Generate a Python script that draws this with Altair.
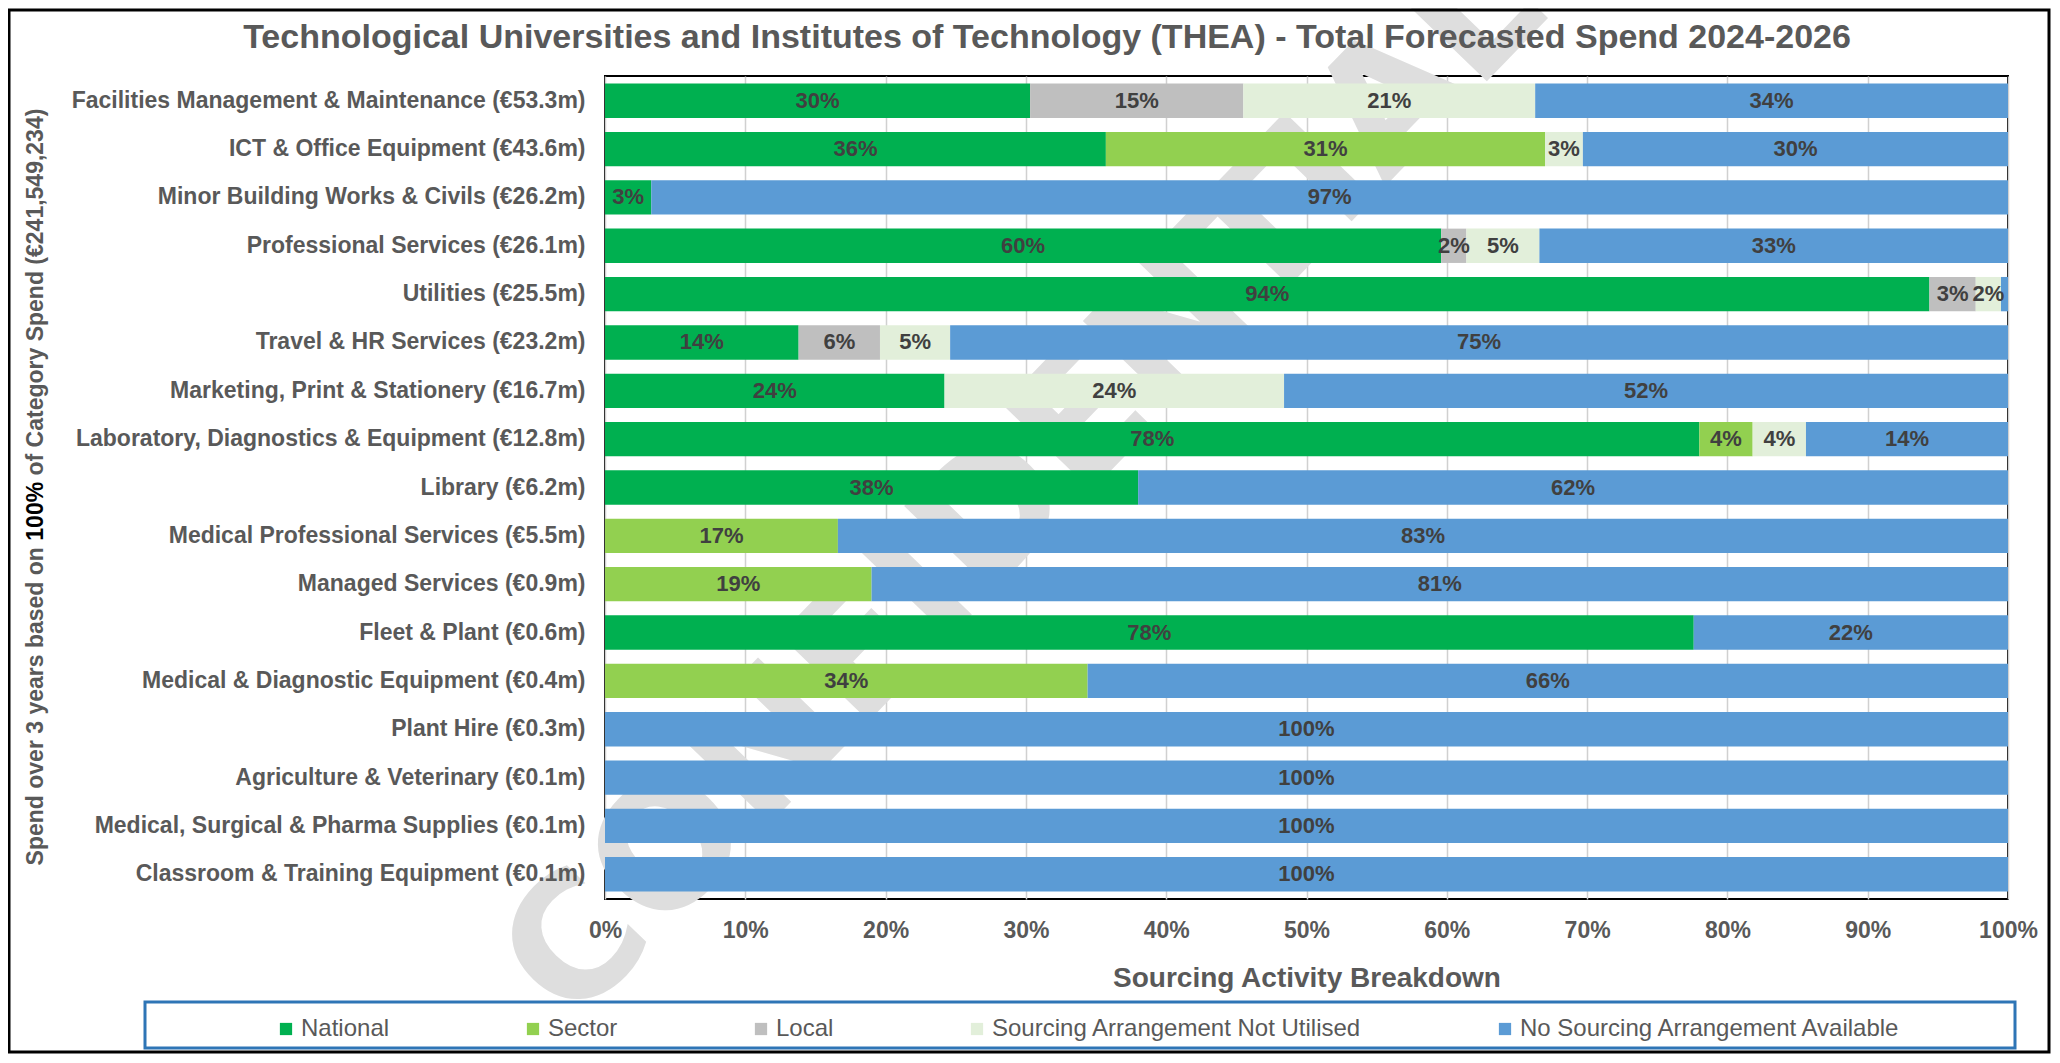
import altair as alt
import pandas as pd

FONT = "Liberation Sans"

categories = [
    "Facilities Management & Maintenance (€53.3m)",
    "ICT & Office Equipment (€43.6m)",
    "Minor Building Works & Civils (€26.2m)",
    "Professional Services (€26.1m)",
    "Utilities (€25.5m)",
    "Travel & HR Services (€23.2m)",
    "Marketing, Print & Stationery (€16.7m)",
    "Laboratory, Diagnostics & Equipment (€12.8m)",
    "Library (€6.2m)",
    "Medical Professional Services (€5.5m)",
    "Managed Services (€0.9m)",
    "Fleet & Plant (€0.6m)",
    "Medical & Diagnostic Equipment (€0.4m)",
    "Plant Hire (€0.3m)",
    "Agriculture & Veterinary (€0.1m)",
    "Medical, Surgical & Pharma Supplies (€0.1m)",
    "Classroom & Training Equipment (€0.1m)",
]

series = [
    "National",
    "Sector",
    "Local",
    "Sourcing Arrangement Not Utilised",
    "No Sourcing Arrangement Available",
]
colors = ["#00B050", "#92D050", "#BFBFBF", "#E2EFDA", "#5B9BD5"]

national =     [30.3, 35.7, 3.3, 59.6, 94.4, 13.8, 24.2, 78.0, 38.0, 0.0, 0.0, 77.6, 0.0, 0.0, 0.0, 0.0, 0.0]
sector =       [0.0, 31.3, 0.0, 0.0, 0.0, 0.0, 0.0, 3.8, 0.0, 16.6, 19.0, 0.0, 34.4, 0.0, 0.0, 0.0, 0.0]
local =        [15.2, 0.0, 0.0, 1.8, 3.3, 5.8, 0.0, 0.0, 0.0, 0.0, 0.0, 0.0, 0.0, 0.0, 0.0, 0.0, 0.0]
not_utilised = [20.8, 2.7, 0.0, 5.2, 1.8, 5.0, 24.2, 3.8, 0.0, 0.0, 0.0, 0.0, 0.0, 0.0, 0.0, 0.0, 0.0]
no_arrangement = [33.7, 30.3, 96.7, 33.4, 0.5, 75.4, 51.6, 14.4, 62.0, 83.4, 81.0, 22.4, 65.6, 100.0, 100.0, 100.0, 100.0]

x_ticks = [0, 10, 20, 30, 40, 50, 60, 70, 80, 90, 100]

title_text = "Technological Universities and Institutes of Technology (THEA) - Total Forecasted Spend 2024-2026"
x_title = "Sourcing Activity Breakdown"
y_title_parts = ["Spend over 3 years based on", "100%", "of Category Spend (€241,549,234)"]
watermark_text = "CONFIDENTIAL"

rows = []
for s_idx, (name, vals) in enumerate(zip(series, [national, sector, local, not_utilised, no_arrangement])):
    for cat, v in zip(categories, vals):
        rows.append({"category": cat, "series": name, "order": s_idx, "value": v})
df = pd.DataFrame(rows)

base = (
    alt.Chart(df)
    .transform_filter("datum.value > 0")
    .transform_stack(
        stack="value",
        groupby=["category"],
        sort=[alt.SortField("order", order="ascending")],
        as_=["x0", "x1"],
    )
    .transform_calculate(mid="(datum.x0 + datum.x1) / 2")
)

y_axis = alt.Axis(
    title=None,
    labelFont=FONT,
    labelFontSize=23,
    labelFontWeight="bold",
    labelColor="#595959",
    labelPadding=20,
    labelLimit=800,
    ticks=False,
    domain=False,
    grid=False,
    zindex=1,
)

x_axis = alt.Axis(
    values=x_ticks,
    labelExpr="datum.value + '%'",
    title=x_title,
    labelFont=FONT,
    labelFontSize=23,
    labelFontWeight="bold",
    labelColor="#595959",
    labelPadding=20,
    labelFlush=False,
    ticks=False,
    domain=False,
    grid=True,
    gridColor="#D0D0D0",
    gridWidth=1.5,
    titleFont=FONT,
    titleFontSize=28,
    titleFontWeight="bold",
    titleColor="#595959",
    titlePadding=22,
)

x_scale = alt.Scale(domain=[0, 100], nice=False)
y_scale = alt.Scale(paddingInner=0.29, paddingOuter=0.157)

bars = base.mark_bar().encode(
    y=alt.Y("category:N", sort=categories, scale=y_scale, axis=y_axis, title=None),
    x=alt.X("x0:Q", scale=x_scale, axis=x_axis, title=x_title),
    x2="x1:Q",
    color=alt.Color(
        "series:N",
        scale=alt.Scale(domain=series, range=colors),
        legend=alt.Legend(
            title=None,
            orient="none",
            legendX=-331,
            legendY=941,
            direction="horizontal",
            columns=5,
            padding=0,
            symbolType="square",
            symbolSize=150,
            symbolStrokeWidth=0,
            labelFont=FONT,
            labelFontSize=24,
            labelColor="#595959",
            labelOffset=3,
            labelLimit=600,
            columnPadding=131,
        ),
    ),
)

labels = (
    base.transform_filter("datum.value >= 1")
    .transform_calculate(label="format(datum.value, '.0f') + '%'")
    .mark_text(font=FONT, fontSize=22, fontWeight="bold", color="#404040")
    .encode(
        y=alt.Y("category:N", sort=categories, scale=y_scale, title=None),
        x=alt.X("mid:Q", scale=x_scale, title=x_title),
        text="label:N",
    )
)

watermark = (
    alt.Chart(pd.DataFrame({"t": [watermark_text]}))
    .mark_text(
        angle=314,
        font="DejaVu Sans",
        fontSize=170,
        fontWeight="bold",
        color="#DEDEDE",
        align="center",
        baseline="middle",
    )
    .encode(x=alt.value(420), y=alt.value(410), text="t:N")
)

one = pd.DataFrame({"a": [0]})


def text_piece(txt, x, y, align, color, size, angle=0):
    return (
        alt.Chart(pd.DataFrame({"t": [txt]}))
        .mark_text(
            font=FONT,
            fontSize=size,
            fontWeight="bold",
            color=color,
            align=align,
            baseline="middle",
            angle=angle,
        )
        .encode(x=alt.value(x), y=alt.value(y), text="t:N")
    )


# y-axis title in three pieces (the middle piece is bold black in the reference)
y_title_1 = text_piece(y_title_parts[0], -569, 471.1, "right", "#595959", 23, 270)
y_title_2 = text_piece(y_title_parts[1], -569, 464.7, "left", "#000000", 23, 270)
y_title_3 = text_piece(y_title_parts[2], -569, 399.5, "left", "#595959", 23, 270)

main_title = text_piece(title_text, 442, -38, "center", "#595959", 34)

legend_box = (
    alt.Chart(one)
    .mark_rect(filled=False, stroke="#2E75B6", strokeWidth=3)
    .encode(x=alt.value(-460), x2=alt.value(1410), y=alt.value(926), y2=alt.value(972))
)
frame = (
    alt.Chart(one)
    .mark_rect(filled=False, stroke="black", strokeWidth=3)
    .encode(x=alt.value(-596), x2=alt.value(1444), y=alt.value(-66), y2=alt.value(976))
)

chart = (
    alt.layer(
        watermark, bars, labels, y_title_1, y_title_2, y_title_3, main_title, legend_box, frame
    )
    .properties(
        width=1403,
        height=823,
        autosize=alt.AutoSizeParams(type="none"),
        padding={"left": 597, "top": 68, "right": 44, "bottom": 155},
    )
    .configure_view(stroke="black", strokeWidth=2)
)

chart.save("out.html", embed_options={"renderer": "svg", "actions": False})
